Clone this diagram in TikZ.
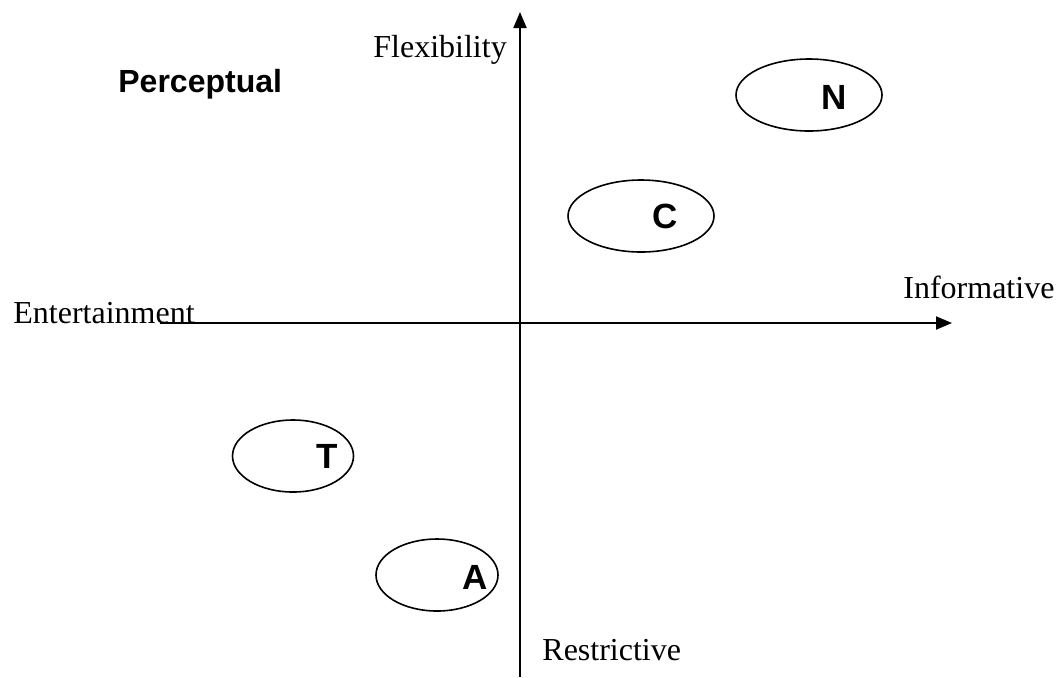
\documentclass[tikz,border=0pt]{standalone}
\usepackage{fontspec}
\setmainfont{Liberation Serif}
\setsansfont{Liberation Sans}
\usepackage{tikz}
\usetikzlibrary{arrows.meta, shapes.geometric}

\begin{document}
\begin{tikzpicture}[
    x=0.5pt, y=-0.5pt,
    >={Triangle[length=8pt, width=6.5pt]},
    axis/.style={->, line width=1pt},
    axlabel/.style={font=\fontsize{16}{19}\selectfont, anchor=base west, inner sep=0pt},
    cluster/.style={draw, ellipse, line width=0.8pt, inner sep=0pt,
        minimum width=#1, minimum height=36pt},
    tag/.style={font=\fontsize{16}{19}\selectfont\sffamily\bfseries, inner sep=0pt},
    letter/.style={font=\fontsize{17.5}{21}\selectfont\sffamily\bfseries, inner sep=0pt},
]
\useasboundingbox (0,0) rectangle (1058,677);
%% axes
\coordinate (xs) at (160,323);
\coordinate (xe) at (952,323);
\coordinate (ys) at (520,677);
\coordinate (ye) at (520,12);
\draw[axis] (xs) -- (xe);
\draw[axis] (ys) -- (ye);
%% axis labels
\node[axlabel] (flex)  at (373,57)  {Flexibility};
\node[axlabel] (restr) at (542,660) {Restrictive};
\node[axlabel] (ent)   at (13,323)  {Entertainment};
\node[axlabel] (info)  at (903,298) {Informative};
\node[tag, anchor=base west] (perc) at (118,92) {Perceptual};
%% clusters
\node[cluster=73pt] (n) at (809,95)  {};
\node[cluster=73pt] (c) at (641,216) {};
\node[cluster=60.5pt] (t) at (293,456) {};
\node[cluster=61pt] (a) at (437,575) {};
\node[letter] (nl) at (834,97)  {N};
\node[letter] (cl) at (665,216) {C};
\node[letter] (tl) at (327,456) {T};
\node[letter] (al) at (475,577) {A};
\end{tikzpicture}
\end{document}
